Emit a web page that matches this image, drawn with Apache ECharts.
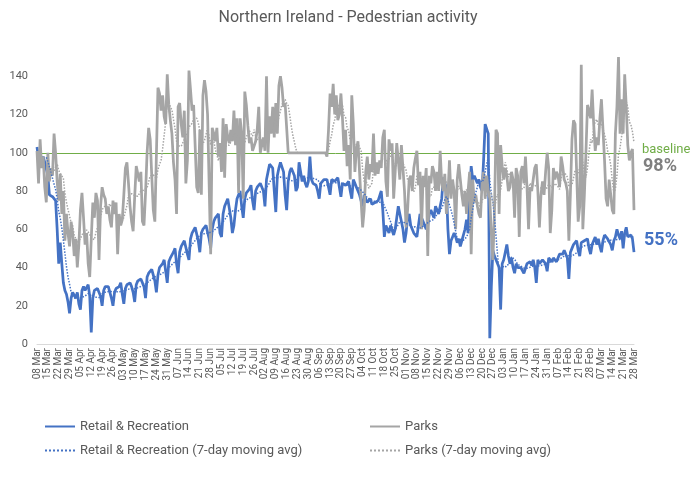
<!DOCTYPE html>
<html>
<head>
<meta charset="utf-8">
<title>Northern Ireland - Pedestrian activity</title>
<script src="https://cdn.jsdelivr.net/npm/echarts@6/dist/echarts.min.js"></script>
<style>
  html, body { margin: 0; padding: 0; background: #fff; }
  #main { width: 696px; height: 488px; }
</style>
</head>
<body>
<div id="main"></div>
<script>
// daily values, one row per week, first day 08 Mar 2020
var retail = [
  103, 97, 100, 96, 98, 95, 94,
  88, 78, 77, 77, 76, 75, 60,
  42, 53, 42, 32, 28, 26, 22,
  16, 24, 27, 26, 24, 27, 21,
  18, 28, 30, 28, 29, 31, 25,
  6, 24, 28, 28, 29, 30, 25,
  20, 28, 30, 29, 30, 31, 24,
  20, 27, 29, 30, 30, 32, 26,
  21, 29, 31, 31, 32, 30, 27,
  22, 31, 33, 33, 34, 35, 30,
  24, 35, 37, 38, 39, 40, 33,
  27, 36, 40, 41, 42, 44, 38,
  32, 43, 45, 46, 48, 50, 42,
  37, 48, 51, 52, 54, 55, 47,
  44, 55, 58, 59, 61, 62, 54,
  48, 58, 60, 61, 62, 63, 55,
  50, 60, 64, 66, 67, 68, 58,
  56, 68, 72, 74, 76, 77, 66,
  58, 62, 70, 76, 78, 80, 72,
  66, 76, 79, 80, 81, 83, 75,
  70, 80, 82, 83, 84, 85, 80,
  72, 86, 90, 94, 95, 92, 80,
  69, 88, 92, 95, 94, 90, 78,
  70, 85, 90, 92, 91, 88, 80,
  82, 95, 90, 85, 88, 84, 82,
  85, 98, 86, 84, 85, 83, 80,
  76, 84, 85, 86, 85, 86, 82,
  78, 86, 87, 85, 86, 87, 82,
  77, 84, 85, 83, 84, 85, 80,
  76, 86, 84, 82, 80, 78, 77,
  72, 78, 76, 74, 75, 76, 73,
  72, 74, 73, 75, 76, 80, 70,
  56, 62, 60, 58, 62, 63, 57,
  60, 66, 72, 68, 64, 60, 53,
  58, 66, 68, 62, 60, 58, 57,
  56, 62, 68, 66, 64, 62, 60,
  62, 68, 70, 68, 66, 72, 70,
  68, 72, 76, 87, 84, 82, 60,
  47, 54, 56, 58, 56, 53, 55,
  51, 54, 53, 60, 65, 58, 78,
  93, 86, 88, 87, 84, 86, 82,
  80, 96, 115, 114, 110, 3, 30,
  49, 46, 44, 45, 40, 18, 42,
  44, 48, 52, 46, 42, 45, 40,
  37, 42, 40, 41, 40, 41, 37,
  36, 42, 42, 43, 41, 44, 40,
  32, 44, 42, 43, 44, 45, 42,
  38, 45, 44, 43, 45, 46, 43,
  42, 47, 48, 47, 49, 50, 45,
  34, 48, 50, 52, 51, 54, 49,
  46, 53, 52, 54, 53, 55, 50,
  47, 52, 54, 56, 52, 55, 51,
  48, 54, 57, 58, 55, 56, 52,
  49, 54, 56, 60, 57, 55, 59,
  50, 58, 61, 56, 55, 57, 55,
  48
]
var parks = [
  101, 84, 107, 92, 98, 82, 74,
  100, 85, 92, 88, 110, 100, 85,
  75, 89, 68, 80, 54, 68, 58,
  51, 64, 58, 46, 55, 40, 52,
  70, 79, 66, 52, 58, 42, 35,
  55, 74, 66, 79, 75, 44, 72,
  82, 78, 76, 68, 72, 65, 61,
  75, 68, 74, 47, 68, 62, 65,
  78, 92, 95, 84, 72, 64, 59,
  77, 93, 92, 85, 90, 64, 62,
  79, 100, 113, 107, 88, 70, 64,
  63, 134, 131, 122, 130, 119, 115,
  141, 125, 117, 110, 95, 86, 68,
  124, 126, 115, 108, 122, 84, 96,
  143, 133, 122, 125, 126, 82, 79,
  112, 78, 130, 138, 132, 120, 84,
  47, 113, 110, 106, 113, 98, 105,
  90, 118, 87, 115, 108, 105, 112,
  106, 122, 104, 118, 79, 118, 110,
  76, 132, 125, 114, 105, 108, 101,
  100, 106, 112, 124, 100, 101, 108,
  101, 140, 100, 119, 110, 124, 108,
  126, 110, 135, 140, 134, 124, 126,
  113, 100, 100, 100, 100, 100, 100,
  100, 100, 100, 100, 100, 100, 100,
  100, 100, 100, 100, 100, 100, 100,
  100, 100, 100, 100, 100, 98, 112,
  131, 124, 136, 120, 130, 117, 120,
  131, 118, 101, 112, 93, 104, 86,
  130, 115, 90, 102, 106, 90, 75,
  61, 70, 90, 98, 86, 94, 90,
  110, 88, 95, 89, 96, 92, 108,
  112, 85, 77, 107, 101, 105, 76,
  90, 105, 96, 86, 104, 104, 80,
  61, 70, 86, 88, 80, 92, 97,
  101, 83, 90, 60, 88, 82, 92,
  46, 88, 84, 93, 90, 80, 90,
  80, 101, 84, 80, 89, 68, 78,
  96, 76, 86, 80, 60, 86, 94,
  86, 78, 72, 80, 68, 80, 90,
  47, 86, 74, 78, 72, 68, 66,
  84, 90, 76, 88, 80, 76, 58,
  44, 68, 112, 110, 68, 104, 93,
  86, 92, 88, 80, 82, 90, 86,
  66, 92, 88, 56, 90, 93, 84,
  98, 82, 60, 82, 80, 86, 92,
  94, 80, 61, 78, 85, 78, 90,
  100, 92, 58, 70, 92, 86, 90,
  88, 82, 98, 93, 86, 84, 80,
  54, 79, 107, 117, 115, 90, 64,
  72, 146, 60, 78, 100, 125, 122,
  118, 133, 115, 101, 108, 104, 118,
  128, 112, 96, 76, 72, 86, 86,
  70, 68, 110, 124, 150, 110, 128,
  110, 141, 124, 104, 96, 100, 102,
  70
]
var monthNames = ['Jan', 'Feb', 'Mar', 'Apr', 'May', 'Jun', 'Jul', 'Aug', 'Sep', 'Oct', 'Nov', 'Dec']
var firstDay = Date.UTC(2020, 2, 8)
var yMax = 160
var yStep = 20
var baseline = 100
var lastLabels = ['98%', '55%']

var blue = '#4472C4'
var grey = '#A5A5A5'
var green = '#70AD47'
var textColor = '#595959'

var days = []
for (var i = 0; i < retail.length; i++) {
  var d = new Date(firstDay + i * 86400000)
  var dd = d.getUTCDate()
  days.push((dd < 10 ? '0' + dd : '' + dd) + ' ' + monthNames[d.getUTCMonth()])
}

// trailing 7-day average, like the Excel trendline
function movingAvg(list, n) {
  var out = []
  for (var i = 0; i < list.length; i++) {
    if (i < n - 1) { out.push('-'); continue }
    var s = 0
    for (var j = i - n + 1; j <= i; j++) s += list[j]
    out.push(Math.round(s / n * 10) / 10)
  }
  return out
}

// only the split line at the baseline is drawn (green), the rest are transparent
var splitColors = []
for (var v = 0; v <= yMax; v += yStep) splitColors.push(v === baseline ? green : 'rgba(0,0,0,0)')

var chart = echarts.init(document.getElementById('main'))
var font = 'Roboto, "Liberation Sans", sans-serif'

var legendBase = {
  top: 420, padding: 0, orient: 'vertical', itemGap: 11, itemWidth: 30, itemHeight: 14,
  itemStyle: { opacity: 0 },
  textStyle: { fontFamily: font, fontSize: 13, color: textColor }
}

chart.setOption({
  animation: false,
  title: {
    text: 'Northern Ireland - Pedestrian activity',
    left: 'center',
    top: 5,
    textStyle: { fontFamily: font, fontSize: 16, fontWeight: 'normal', color: textColor }
  },
  grid: { left: 37, right: 62, top: 38, bottom: 144 },
  legend: [
    Object.assign({ left: 44, data: ['Retail & Recreation', 'Retail & Recreation (7-day moving avg)'] }, legendBase),
    Object.assign({ left: 369, data: ['Parks', 'Parks (7-day moving avg)'] }, legendBase)
  ],
  xAxis: {
    type: 'category',
    data: days,
    boundaryGap: false,
    axisLine: { lineStyle: { color: '#D9D9D9' } },
    axisTick: { show: false },
    axisLabel: { interval: 6, rotate: 90, margin: 4, fontFamily: font, fontSize: 10, color: textColor }
  },
  yAxis: {
    type: 'value',
    min: 0,
    max: yMax,
    interval: yStep,
    splitLine: { show: true, lineStyle: { color: splitColors, width: 1 } },
    axisLine: { show: false },
    axisTick: { show: false },
    axisLabel: {
      margin: 9, fontFamily: font, fontSize: 11, color: textColor,
      formatter: function (v) { return v >= yMax ? '' : v }
    }
  },
  series: [
    {
      name: 'Retail & Recreation', type: 'line', data: retail, symbol: 'none',
      lineStyle: { color: blue, width: 2.75 }, itemStyle: { color: blue }
    },
    {
      name: 'Parks', type: 'line', data: parks, symbol: 'none',
      lineStyle: { color: grey, width: 2.75 }, itemStyle: { color: grey }
    },
    {
      name: 'Retail & Recreation (7-day moving avg)', type: 'line', data: movingAvg(retail, 7), symbol: 'none',
      lineStyle: { color: blue, width: 1.5, type: 'dotted' }, itemStyle: { color: blue }
    },
    {
      name: 'Parks (7-day moving avg)', type: 'line', data: movingAvg(parks, 7), symbol: 'none',
      lineStyle: { color: grey, width: 1.5, type: 'dotted' }, itemStyle: { color: grey }
    }
  ],
  graphic: [
    { type: 'text', left: 642, top: 143, style: { text: 'baseline', fill: green, font: '13px ' + font } },
    { type: 'text', left: 643, top: 157, style: { text: lastLabels[0], fill: '#7F7F7F', font: 'bold 18px ' + font } },
    { type: 'text', left: 644, top: 231, style: { text: lastLabels[1], fill: blue, font: 'bold 18px ' + font } }
  ]
})
</script>
</body>
</html>
